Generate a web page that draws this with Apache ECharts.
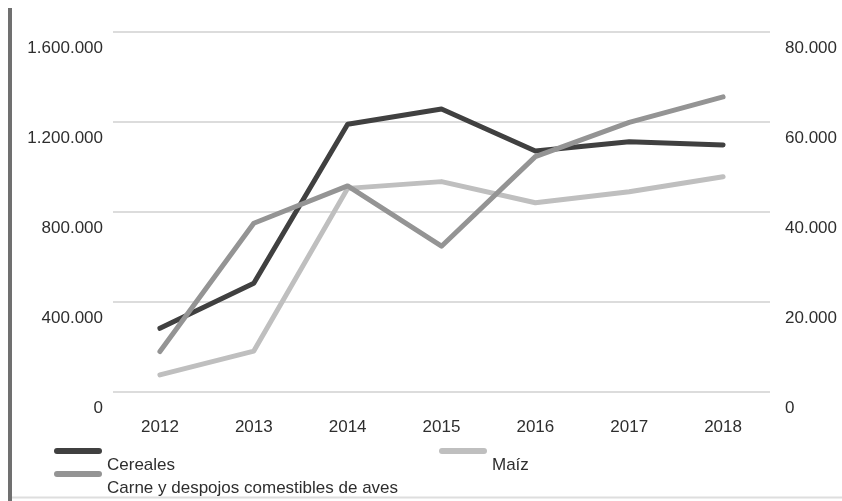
<!DOCTYPE html>
<html>
<head>
<meta charset="utf-8">
<script src="https://cdn.jsdelivr.net/npm/echarts@6/dist/echarts.min.js"></script>
<style>
  html, body { margin: 0; padding: 0; background: #fff; }
  #chart { width: 842px; height: 501px; }
</style>
</head>
<body>
<div id="chart"></div>
<script>
// Years on the category axis
var years = ['2012', '2013', '2014', '2015', '2016', '2017', '2018'];

// Left axis (tonnes)
var cereales = [283000, 483000, 1190000, 1258000, 1071000, 1112000, 1098000];
var maiz = [76000, 182000, 905000, 935000, 841000, 890000, 957000];

// Right axis (tonnes)
var carneAves = [9000, 37500, 45800, 32400, 52300, 59900, 65600];

// Axis tick settings
var leftMax = 1600000, leftStep = 400000;
var rightMax = 80000, rightStep = 20000;

function fmtMiles(v) {
  return String(Math.round(v)).replace(/\B(?=(\d{3})+(?!\d))/g, '.');
}

var FONT = 'Liberation Sans, Arial, sans-serif';
var TXT = '#2e2e2e';
var FS = 17;
var pill = 'path://M3,0 L45,0 A3,3 0 0 1 45,6 L3,6 A3,3 0 0 1 3,0 Z';

// Legend entries: pill icon with the name set one line below it
function legendFor(name, left, top) {
  return {
    data: [name],
    left: left,
    top: top,
    orient: 'horizontal',
    icon: pill,
    itemWidth: 48,
    itemHeight: 6,
    padding: 0,
    selectedMode: false,
    formatter: function (n) { return '\n' + n; },
    textStyle: { fontFamily: FONT, fontSize: FS, color: TXT, lineHeight: 29 }
  };
}

var chart = echarts.init(document.getElementById('chart'), null, { renderer: 'canvas' });

function lineSeries(name, data, color, yIndex) {
  return {
    name: name,
    type: 'line',
    yAxisIndex: yIndex,
    data: data,
    showSymbol: false,
    symbol: 'none',
    lineStyle: { color: color, width: 5, cap: 'round', join: 'round' },
    itemStyle: { color: color },
    emphasis: { disabled: true },
    animation: false
  };
}

chart.setOption({
  backgroundColor: '#ffffff',
  animation: false,
  grid: { left: 113, right: 72, top: 32, bottom: 109, containLabel: false },
  legend: [
    legendFor('Cereales', 54, 422),
    legendFor('Maíz', 439, 422),
    legendFor('Carne y despojos comestibles de aves', 54, 445)
  ],
  xAxis: {
    type: 'category',
    data: years,
    boundaryGap: true,
    axisLine: { show: false },
    axisTick: { show: false },
    axisLabel: { color: TXT, fontFamily: FONT, fontSize: FS, margin: 27 }
  },
  yAxis: [
    {
      type: 'value',
      min: 0,
      max: leftMax,
      interval: leftStep,
      axisLine: { show: false },
      axisTick: { show: false },
      splitLine: { show: true, lineStyle: { color: '#dcdcdc', width: 2 } },
      axisLabel: {
        color: TXT, fontFamily: FONT, fontSize: FS, margin: 10,
        verticalAlign: 'top', lineHeight: 33,
        formatter: fmtMiles
      }
    },
    {
      type: 'value',
      min: 0,
      max: rightMax,
      interval: rightStep,
      axisLine: { show: false },
      axisTick: { show: false },
      splitLine: { show: false },
      axisLabel: {
        color: TXT, fontFamily: FONT, fontSize: FS, margin: 15,
        verticalAlign: 'top', lineHeight: 33,
        formatter: fmtMiles
      }
    }
  ],
  series: [
    lineSeries('Cereales', cereales, '#404040', 0),
    lineSeries('Maíz', maiz, '#bfbfbf', 0),
    lineSeries('Carne y despojos comestibles de aves', carneAves, '#949494', 1)
  ],
  graphic: [
    { type: 'rect', shape: { x: 8, y: 8, width: 4, height: 493 }, style: { fill: '#707070' }, silent: true },
    { type: 'line', shape: { x1: 12, y1: 497.5, x2: 842, y2: 497.5 }, style: { stroke: '#dedede', lineWidth: 2 }, silent: true }
  ]
});
</script>
</body>
</html>
